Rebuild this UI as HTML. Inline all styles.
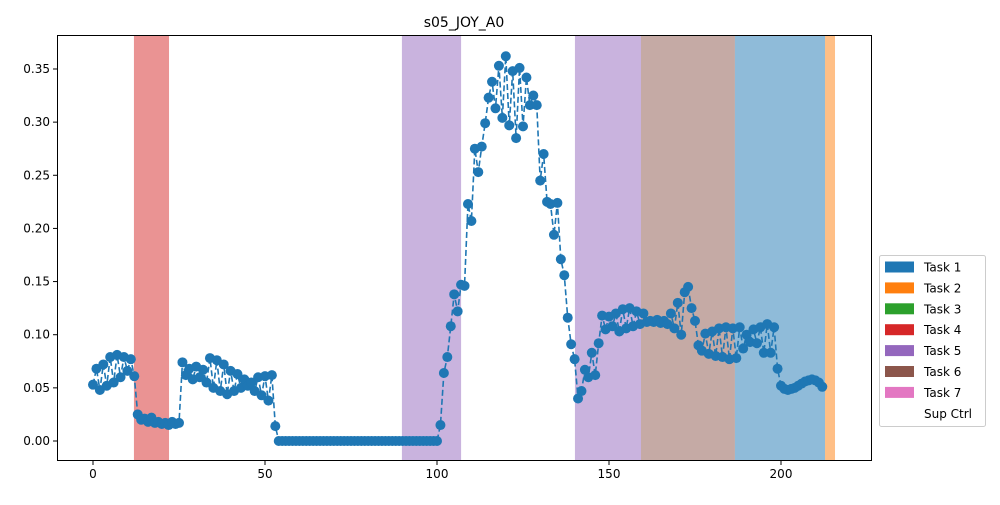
<!DOCTYPE html>
<html><head><meta charset="utf-8"><style>
body{margin:0;background:#fff;font-family:"Liberation Sans","DejaVu Sans",sans-serif}
svg text{font-family:"DejaVu Sans","Liberation Sans",sans-serif;font-size:12px;fill:#000}
</style></head><body>
<svg id="chart" width="1000" height="500" xmlns="http://www.w3.org/2000/svg">
<rect width="1000" height="500" fill="#fff"/>
<text x="464" y="27" text-anchor="middle" style="font-size:14px">s05_JOY_A0</text>
<g id="bands"></g><g id="series"></g><g id="axes"></g><g id="legend"></g>
</svg>
<script>
const values = [0.053,0.068,0.048,0.072,0.052,0.079,0.055,0.081,0.060,0.079,0.066,0.077,0.061,
0.025,0.020,0.021,0.018,0.022,0.017,0.018,0.016,0.017,0.015,0.018,0.016,0.017,
0.074,0.062,0.068,0.058,0.070,0.060,0.067,0.055,0.078,0.050,0.076,0.047,0.072,0.044,0.066,0.047,0.063,0.050,0.058,0.052,0.055,0.047,0.060,0.043,0.061,0.038,0.062,0.014,
0,0,0,0,0,0,0,0,0,0,0,0,0,0,0,0,0,0,0,0,0,0,0,0,0,0,0,0,0,0,0,0,0,0,0,0,0,0,0,0,0,0,0,0,0,0,0,
0.015,0.064,0.079,0.108,0.138,0.122,0.147,0.146,0.223,0.207,0.275,0.253,0.277,0.299,0.323,0.338,0.313,0.353,0.304,0.362,0.297,0.348,0.285,0.351,0.296,0.342,0.316,0.325,0.316,0.245,0.270,0.225,0.223,0.194,0.224,0.171,0.156,0.116,0.091,0.077,0.040,0.047,0.067,0.060,0.083,0.062,0.092,0.118,0.105,0.117,0.108,0.120,0.103,0.124,0.106,0.125,0.108,0.122,0.110,0.120,0.112,0.113,0.112,0.114,0.111,0.113,0.110,0.120,0.106,0.130,0.100,0.140,0.145,0.125,0.113,0.090,0.085,0.101,0.082,0.103,0.080,0.106,0.079,0.107,0.077,0.106,0.078,0.107,0.087,0.100,0.093,0.105,0.092,0.107,0.083,0.110,0.083,0.107,0.068,0.052,0.049,0.048,0.049,0.050,0.052,0.054,0.056,0.057,0.058,0.057,0.055,0.051];
const bandStarts = [11.9, 89.8, 140.1, 159.3, 186.6, 212.8];
const bandEnds = [22.1, 107.0, 159.3, 186.6, 212.8, 215.7];
const bandTasks = [4, 5, 5, 6, 1, 2];
const xTicks = [0, 50, 100, 150, 200];
const yTicks = [0.00, 0.05, 0.10, 0.15, 0.20, 0.25, 0.30, 0.35];
const legendLabels = ["Task 1","Task 2","Task 3","Task 4","Task 5","Task 6","Task 7","Sup Ctrl"];
const taskColors = ["#1f77b4","#ff7f0e","#2ca02c","#d62728","#9467bd","#8c564b","#e377c2",null];

const L=57,R=872,T=35,B=461;
const x = v => 93 + v*3.44;
const y = v => 441 - v*1062.9;
const NS="http://www.w3.org/2000/svg";
function mk(tag, attrs, parent){const e=document.createElementNS(NS,tag);for(const k in attrs)e.setAttribute(k,attrs[k]);parent.appendChild(e);return e;}

const bands=document.getElementById('bands');
bandStarts.forEach((s,i)=>{
  const r=mk('rect',{x:x(s),y:T,width:x(bandEnds[i])-x(s),height:B-T,fill:taskColors[bandTasks[i]-1],'fill-opacity':0.5},bands);
  
  
});

const ser=document.getElementById('series');
const pts=values.map((v,i)=>x(i).toFixed(2)+','+y(v).toFixed(2)).join(' ');
const line=mk('polyline',{points:pts,fill:'none',stroke:'#1f77b4','stroke-width':1.6,'stroke-dasharray':'6,3'},ser);


values.forEach((v,i)=>{
  const c=mk('circle',{cx:x(i),cy:y(v),r:5,fill:'#1f77b4'},ser);
  
  
});

const ax=document.getElementById('axes');
const frame=mk('rect',{x:L+0.5,y:T+0.5,width:R-L-1,height:B-T-1,fill:'none',stroke:'#000','stroke-width':1},ax);


xTicks.forEach(t=>{
  mk('line',{x1:x(t),x2:x(t),y1:B,y2:B+4,stroke:'#000'},ax);
  const tx=mk('text',{x:x(t),y:B+17,'text-anchor':'middle'},ax);tx.textContent=t;
  
  
});
yTicks.forEach(t=>{
  mk('line',{x1:L-4,x2:L,y1:y(t),y2:y(t),stroke:'#000'},ax);
  const tx=mk('text',{x:L-7,y:y(t)+4,'text-anchor':'end'},ax);tx.textContent=t.toFixed(2);
  
  
});

const lg=document.getElementById('legend');
const box=mk('rect',{x:879.5,y:255.5,width:106,height:171,rx:2,fill:'#fff',stroke:'#ccc'},lg);


legendLabels.forEach((lab,i)=>{
  const cy=267+i*20.9;
  if(taskColors[i]){
    const p=mk('rect',{x:885,y:cy-5.5,width:29,height:11,fill:taskColors[i]},lg);
    
    
  }
  const t=mk('text',{x:924,y:cy+4.5},lg);t.textContent=lab;
  
  
});
</script>
</body></html>
